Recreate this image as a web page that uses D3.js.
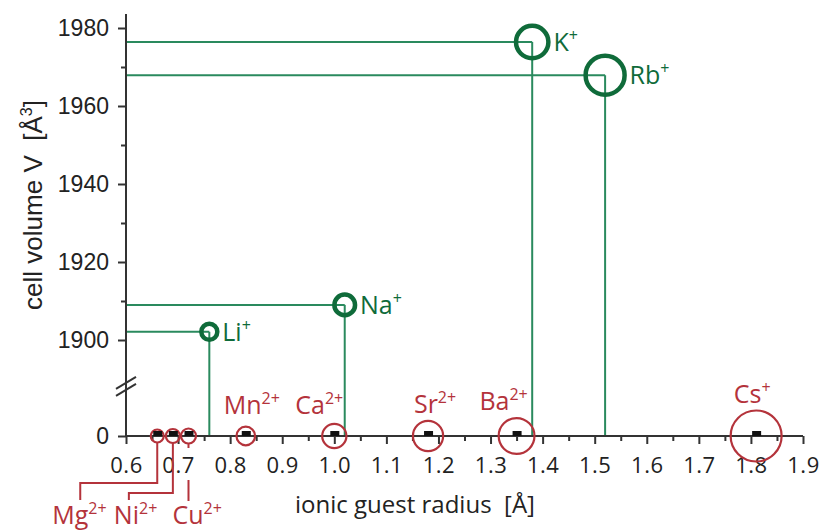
<!DOCTYPE html>
<html>
<head>
<meta charset="utf-8">
<script src="https://cdn.jsdelivr.net/npm/d3@7"></script>
<style>
  body { margin: 0; background: #fff; }
</style>
</head>
<body>
<svg width="822" height="531"></svg>
<script>
// alkali guests with a measured cell volume
const greenIons = ["Li", "Na", "K", "Rb"];
const greenCharges = ["+", "+", "+", "+"];
const greenRadius = [0.76, 1.02, 1.38, 1.52];
const greenVolume = [1902.1, 1909.0, 1976.4, 1967.9];

// guests that gave no volume -> put on the zero line
const redIons = ["Mg", "Ni", "Cu", "Mn", "Ca", "Sr", "Ba", "Cs"];
const redCharges = ["2+", "2+", "2+", "2+", "2+", "2+", "2+", "+"];
const redRadius = [0.66, 0.69, 0.72, 0.83, 1.00, 1.18, 1.35, 1.81];
const redVolume = [0, 0, 0, 0, 0, 0, 0, 0];

const xTicks = [0.6, 0.7, 0.8, 0.9, 1.0, 1.1, 1.2, 1.3, 1.4, 1.5, 1.6, 1.7, 1.8, 1.9];
const xMinor = [0.65, 0.75, 0.85, 0.95, 1.05, 1.15, 1.25, 1.35, 1.45, 1.55, 1.65, 1.75, 1.85];
const yTicks = [1900, 1920, 1940, 1960, 1980];
const yMinor = [1910, 1930, 1950, 1970];

const GREEN_LINE = "#2a8a5e";
const GREEN = "#0f6b3a";
const RED = "#b4333b";
const AXIS = "#333";
const SANS = "'Open Sans', sans-serif";
const ARIAL = "'Liberation Sans', Arial, sans-serif";

const svg = d3.select("svg");

const x = d3.scaleLinear().domain([0.6, 1.9]).range([126, 803]);
const yTop = d3.scaleLinear().domain([1900, 1980]).range([340, 28]);
const yLow = d3.scaleLinear().domain([0, 1]).range([436, 432]);
const y = v => v < 100 ? yLow(v) : yTop(v);

const rGreen = d3.scalePow().exponent(3).domain([0.76, 1.52]).range([8, 19.5]);
const rRed = d3.scaleLinear().domain([0.66, 1.81]).range([6.5, 25.5]);

function ionLabel(text, base, charge) {
    text.append("tspan").text(base);
    text.append("tspan").attr("dy", -10).attr("font-size", 16).text(charge);
}

// green drop lines to both axes
const gi = d3.range(greenIons.length);
const lines = svg.append("g").attr("stroke", GREEN_LINE).attr("stroke-width", 2);
lines.selectAll(".h").data(gi).join("line")
    .attr("x1", x(0.6)).attr("x2", i => x(greenRadius[i]))
    .attr("y1", i => y(greenVolume[i])).attr("y2", i => y(greenVolume[i]));
lines.selectAll(".v").data(gi).join("line")
    .attr("x1", i => x(greenRadius[i])).attr("x2", i => x(greenRadius[i]))
    .attr("y1", i => y(greenVolume[i])).attr("y2", y(0));

// axes
const ax = svg.append("g").attr("color", AXIS);
ax.append("line")
    .attr("x1", x(0.6)).attr("x2", x(1.9)).attr("y1", y(0)).attr("y2", y(0))
    .attr("stroke", AXIS).attr("stroke-width", 2);
ax.append("line")
    .attr("x1", x(0.6)).attr("x2", x(0.6)).attr("y1", yTop(1983.6)).attr("y2", y(0))
    .attr("stroke", AXIS).attr("stroke-width", 2);

const xAxis = ax.append("g").attr("transform", `translate(0,${y(0)})`)
    .call(d3.axisBottom(x).tickValues(xTicks).tickFormat(d3.format(".1f")).tickSize(8).tickPadding(13));
ax.append("g").attr("transform", `translate(0,${y(0)})`)
    .call(d3.axisBottom(x).tickValues(xMinor).tickFormat("").tickSize(5));
const yAxis = ax.append("g").attr("transform", `translate(${x(0.6)},0)`)
    .call(d3.axisLeft(yTop).tickValues(yTicks).tickFormat(d3.format("d")).tickSize(8).tickPadding(9));
ax.append("g").attr("transform", `translate(${x(0.6)},0)`)
    .call(d3.axisLeft(yTop).tickValues(yMinor).tickFormat("").tickSize(5));
const yAxisLow = ax.append("g").attr("transform", `translate(${x(0.6)},0)`)
    .call(d3.axisLeft(yLow).tickValues([0]).tickFormat(d3.format("d")).tickSize(8).tickPadding(9));

ax.selectAll(".domain").remove();
ax.selectAll(".tick line").attr("stroke-width", 2);
xAxis.selectAll("text").style("font-family", SANS).style("font-size", "22px")
    .style("letter-spacing", "0.5px").attr("fill", "#222");
yAxis.selectAll("text").style("font-family", ARIAL).style("font-size", "23px").attr("fill", "#222");
yAxisLow.selectAll("text").style("font-family", ARIAL).style("font-size", "23px").attr("fill", "#222");

// axis break
const yb = yTop(1888);
ax.selectAll(".brk").data([-4, 3]).join("line")
    .attr("x1", x(0.6) - 10).attr("x2", x(0.6) + 10)
    .attr("y1", d => yb + d + 6).attr("y2", d => yb + d - 6)
    .attr("stroke", AXIS).attr("stroke-width", 2);

// axis titles
svg.append("text")
    .attr("x", 415).attr("y", 513)
    .attr("text-anchor", "middle").attr("fill", "#222")
    .style("font-family", SANS).style("font-size", "24px")
    .style("white-space", "pre")
    .text("ionic guest radius  [Å]");

const yTitle = svg.append("text")
    .attr("transform", "translate(42,205) rotate(-90)")
    .attr("text-anchor", "middle").attr("fill", "#222")
    .style("font-family", ARIAL).style("font-size", "26px")
    .style("white-space", "pre");
yTitle.append("tspan").text("cell volume V  [Å");
yTitle.append("tspan").attr("dy", -10).style("font-size", "16px").text("3");
yTitle.append("tspan").attr("dy", 10).text("]");

// red guests on the zero line
const ri = d3.range(redIons.length);
svg.append("g").selectAll("circle").data(ri).join("circle")
    .attr("cx", i => x(redRadius[i])).attr("cy", i => y(redVolume[i]))
    .attr("r", i => rRed(redRadius[i]))
    .attr("fill", "none").attr("stroke", RED).attr("stroke-width", 2.2);
svg.append("g").selectAll("rect").data(ri).join("rect")
    .attr("x", i => x(redRadius[i]) - 4).attr("y", i => y(redVolume[i]) - 5)
    .attr("width", 9).attr("height", 5).attr("fill", "#111");

// labels above the larger red circles
const aboveShift = { Mn: 6, Ca: -15, Sr: 7, Ba: -13, Cs: -4 };
svg.append("g").attr("fill", RED).attr("text-anchor", "middle")
    .style("font-family", SANS).style("font-size", "25px")
    .selectAll("text").data(ri.filter(i => redIons[i] in aboveShift)).join("text")
    .attr("x", i => x(redRadius[i]) + aboveShift[redIons[i]])
    .attr("y", i => Math.min(414, y(redVolume[i]) - rRed(redRadius[i]) - 8))
    .each(function (i) { ionLabel(d3.select(this), redIons[i], redCharges[i]); });

// leader lines for the small ones below the axis
const below = {
    Mg: { dx: -77, elbow: 47, end: 64, tx: -28 },
    Ni: { dx: -44, elbow: 57, end: 64, tx: -15 },
    Cu: { dx: 0, elbow: 44, end: 65, tx: -16 }
};
const bi = ri.filter(i => redIons[i] in below);
const leaders = svg.append("g").attr("fill", "none").attr("stroke", RED).attr("stroke-width", 2);
leaders.selectAll("path").data(bi).join("path")
    .attr("d", i => {
        const b = below[redIons[i]];
        const px = x(redRadius[i]), py = y(redVolume[i]);
        const r = rRed(redRadius[i]);
        if (b.dx === 0) {
            return `M${px},${py + r}V${py + 12}M${px},${py + b.elbow}V${py + b.end}`;
        }
        return `M${px},${py + r}V${py + b.elbow}H${px + b.dx}V${py + b.end}`;
    });
svg.append("g").attr("fill", RED)
    .style("font-family", SANS).style("font-size", "25px")
    .selectAll("text").data(bi).join("text")
    .attr("x", i => x(redRadius[i]) + below[redIons[i]].dx + below[redIons[i]].tx)
    .attr("y", 524)
    .each(function (i) { ionLabel(d3.select(this), redIons[i], redCharges[i]); });

// green guests
svg.append("g").selectAll("circle").data(gi).join("circle")
    .attr("cx", i => x(greenRadius[i])).attr("cy", i => y(greenVolume[i]))
    .attr("r", i => rGreen(greenRadius[i]))
    .attr("fill", "none").attr("stroke", GREEN).attr("stroke-width", 4.5);
svg.append("g").attr("fill", GREEN)
    .style("font-family", SANS).style("font-size", "25px")
    .selectAll("text").data(gi).join("text")
    .attr("x", i => x(greenRadius[i]) + rGreen(greenRadius[i]) + 5)
    .attr("y", i => y(greenVolume[i]) + 9)
    .each(function (i) { ionLabel(d3.select(this), greenIons[i], greenCharges[i]); });
</script>
</body>
</html>
